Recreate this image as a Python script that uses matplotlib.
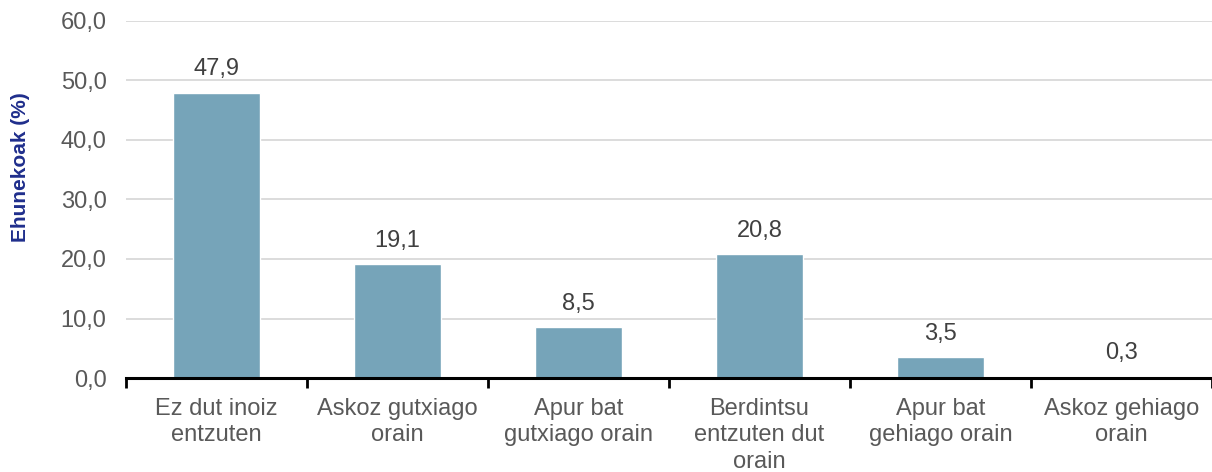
import numpy as np
import matplotlib
matplotlib.use("Agg")
import matplotlib.pyplot as plt
from matplotlib.ticker import FuncFormatter

plt.rcParams['font.family'] = ['Liberation Sans', 'DejaVu Sans']

categories = [
    "Ez dut inoiz\nentzuten",
    "Askoz gutxiago\norain",
    "Apur bat\ngutxiago orain",
    "Berdintsu\nentzuten dut\norain",
    "Apur bat\ngehiago orain",
    "Askoz gehiago\norain",
]
values = [47.9, 19.1, 8.5, 20.8, 3.5, 0.3]
y_ticks = [0, 10, 20, 30, 40, 50, 60]

bar_color = "#76a4b9"
text_grey = "#595959"

fig = plt.figure(figsize=(12.12, 4.72), dpi=100)
ax = fig.add_axes([0.104, 0.199, 0.896, 0.757])

x = np.arange(len(categories))
bars = ax.bar(x, values, width=0.48, color=bar_color, edgecolor="white",
              linewidth=1.0, zorder=2)

for b, v in zip(bars, values):
    ax.annotate(f"{v:.1f}".replace(".", ","),
                xy=(b.get_x() + b.get_width() / 2, v),
                xytext=(0, 9), textcoords="offset points",
                ha="center", va="bottom", fontsize=17, color="#404040")

ax.set_xlim(-0.5, len(categories) - 0.5)
ax.set_ylim(0, 60)
ax.set_yticks(y_ticks)
ax.yaxis.set_major_formatter(FuncFormatter(lambda v, p: f"{v:.1f}".replace(".", ",")))
ax.grid(axis="y", color="#d9d9d9", linewidth=1.3, zorder=0)
ax.set_axisbelow(True)

ax.set_xticks(x)
ax.set_xticklabels(categories, fontsize=17, color=text_grey, linespacing=1.27)
ax.set_xticks(np.arange(-0.5, len(categories)), minor=True)
ax.tick_params(axis="x", which="major", length=0, pad=14)
ax.tick_params(axis="x", which="minor", length=7, width=2, direction="out", color="black")
ax.tick_params(axis="y", length=0, labelsize=17, labelcolor=text_grey, pad=14)

for side in ["top", "right", "left"]:
    ax.spines[side].set_visible(False)
ax.spines["bottom"].set_linewidth(2.2)
ax.spines["bottom"].set_color("black")
ax.spines["bottom"].set_zorder(3)

ax.set_ylabel("Ehunekoak (%)", fontsize=15, fontweight="bold", color="#1f2e8c")
ax.yaxis.set_label_coords(-0.0885, 0.59)

fig.savefig("out.png", dpi=100)
